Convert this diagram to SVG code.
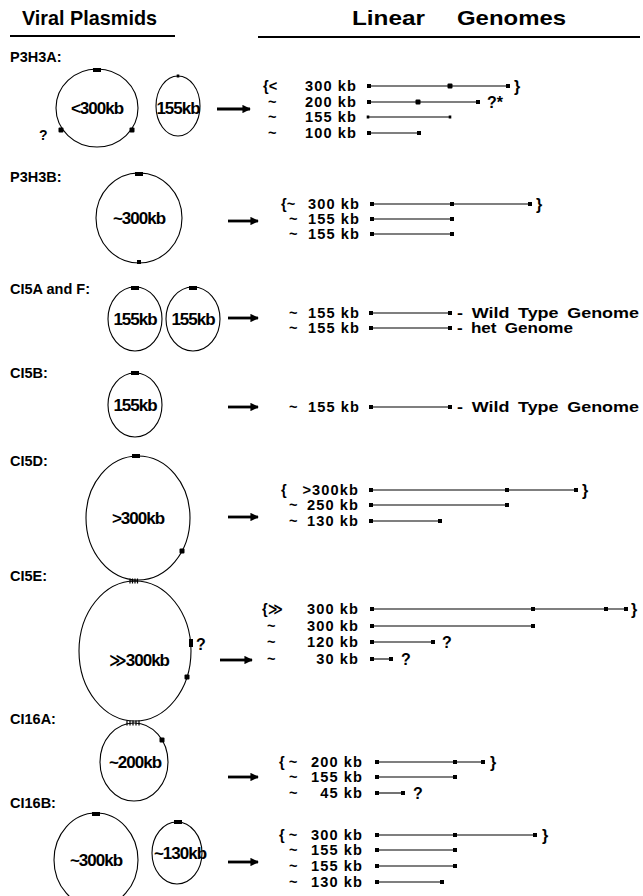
<svg xmlns="http://www.w3.org/2000/svg" width="643" height="896" viewBox="0 0 643 896">
<defs>
<style>
text{font-family:"Liberation Sans",Arial,"DejaVu Sans",sans-serif;fill:#000;font-weight:bold}
.hdr{font-size:21px}
.sec{font-size:14.5px}
.pl{font-size:17px;text-anchor:middle;letter-spacing:-1px}
.g{font-size:14.6px}
.n{text-anchor:end;letter-spacing:1.1px}
.c{fill:none;stroke:#000;stroke-width:1.1}
.ln{stroke:#000;stroke-width:1.1;fill:none}
.ar{stroke:#000;stroke-width:2.8;fill:none}
.ul{stroke:#000;stroke-width:2;fill:none}
.ht{stroke:#000;stroke-width:1.2;fill:none}
</style>
<marker id="ah" viewBox="0 0 10 10" refX="9" refY="5" markerWidth="3.2" markerHeight="3" orient="auto" markerUnits="strokeWidth">
<path d="M0,0 L10,5 L0,10 z" fill="#000"/>
</marker>
<rect id="sq" x="-2" y="-2" width="4" height="4" fill="#000"/>
<rect id="dt" x="-2.5" y="-2.5" width="5" height="5" rx="1" fill="#000"/>
<rect id="tk" x="-1.3" y="-1.5" width="2.6" height="3" fill="#000"/>
<rect id="tm" x="-4" y="-2" width="8" height="4" fill="#000"/>
</defs>
<rect width="643" height="896" fill="#fff"/>

<g id="headers">
<text class="hdr" x="22" y="25" textLength="135" lengthAdjust="spacingAndGlyphs">Viral Plasmids</text>
<line class="ul" x1="10" y1="36" x2="175" y2="36"/>
<text class="hdr" x="352" y="25" textLength="73" lengthAdjust="spacingAndGlyphs">Linear</text>
<text class="hdr" x="457" y="25" textLength="109" lengthAdjust="spacingAndGlyphs">Genomes</text>
<line class="ul" x1="258" y1="37" x2="640" y2="37"/>
</g>

<!-- P3H3A -->
<g id="p3h3a">
<text class="sec" x="10" y="62">P3H3A:</text>
<ellipse class="c" cx="97" cy="108" rx="41" ry="39"/>
<use href="#tm" x="97" y="70"/>
<use href="#dt" x="61" y="130"/>
<use href="#dt" x="132" y="130"/>
<text class="g" x="39" y="140" style="font-size:14px">?</text>
<text class="pl" x="97" y="114">&lt;300kb</text>
<ellipse class="c" cx="178" cy="106" rx="22" ry="30"/>
<use href="#tk" x="178" y="76"/>
<text class="pl" x="178" y="114">155kb</text>
<text class="g"><tspan x="263" y="91">{&lt;</tspan><tspan class="n" x="357" y="91">300 kb</tspan><tspan x="268" y="107">~</tspan><tspan class="n" x="357" y="107">200 kb</tspan><tspan x="268" y="122">~</tspan><tspan class="n" x="357" y="122">155 kb</tspan><tspan x="268" y="138">~</tspan><tspan class="n" x="357" y="138">100 kb</tspan></text>
<line class="ln" x1="369" y1="86" x2="508" y2="86"/>
<use href="#sq" x="369" y="86"/><use href="#dt" x="450" y="86"/><use href="#sq" x="508" y="86"/>
<text class="g" x="514" y="91.5" style="font-size:16px">}</text>
<line class="ln" x1="369" y1="102" x2="478" y2="102"/>
<use href="#sq" x="369" y="102"/><use href="#dt" x="418" y="102"/><use href="#sq" x="478" y="102"/>
<text class="g" x="487" y="107.5" style="font-size:16px">?*</text>
<line class="ln" x1="368" y1="117" x2="450" y2="117"/>
<use href="#tk" x="368" y="117"/><use href="#tk" x="450" y="117"/>
<line class="ln" x1="369" y1="133" x2="419" y2="133"/>
<use href="#sq" x="369" y="133"/><use href="#sq" x="419" y="133"/>
</g>

<!-- P3H3B -->
<g id="p3h3b">
<text class="sec" x="10" y="182">P3H3B:</text>
<ellipse class="c" cx="139" cy="218" rx="43" ry="45"/>
<use href="#tm" x="139" y="174"/>
<use href="#sq" x="139" y="262"/>
<text class="pl" x="139" y="224">~300kb</text>
<text class="g"><tspan x="281" y="209">{~</tspan><tspan class="n" x="360" y="209">300 kb</tspan><tspan x="289" y="224">~</tspan><tspan class="n" x="360" y="224">155 kb</tspan><tspan x="289" y="239">~</tspan><tspan class="n" x="360" y="239">155 kb</tspan></text>
<line class="ln" x1="372" y1="204" x2="530" y2="204"/>
<use href="#sq" x="372" y="204"/><use href="#sq" x="452" y="204"/><use href="#sq" x="530" y="204"/>
<text class="g" x="536" y="209.5" style="font-size:16px">}</text>
<line class="ln" x1="372" y1="219" x2="452" y2="219"/>
<use href="#sq" x="372" y="219"/><use href="#sq" x="452" y="219"/>
<line class="ln" x1="372" y1="234" x2="452" y2="234"/>
<use href="#sq" x="372" y="234"/><use href="#sq" x="452" y="234"/>
</g>

<!-- CI5A and F -->
<g id="ci5af">
<text class="sec" x="10" y="294">CI5A and F:</text>
<ellipse class="c" cx="135" cy="319" rx="27" ry="32"/>
<use href="#tm" x="135" y="288"/>
<text class="pl" x="135" y="325">155kb</text>
<ellipse class="c" cx="193" cy="319" rx="27" ry="32"/>
<use href="#tm" x="193" y="288"/>
<text class="pl" x="193" y="325">155kb</text>
<text class="g"><tspan x="289" y="318">~</tspan><tspan class="n" x="360" y="318">155 kb</tspan><tspan x="289" y="333">~</tspan><tspan class="n" x="360" y="333">155 kb</tspan></text>
<line class="ln" x1="371" y1="313" x2="450" y2="313"/>
<use href="#sq" x="371" y="313"/><use href="#sq" x="450" y="313"/>
<line class="ln" x1="371" y1="328" x2="450" y2="328"/>
<use href="#sq" x="371" y="328"/><use href="#sq" x="450" y="328"/>
<text class="g"><tspan x="457" y="318" textLength="182" lengthAdjust="spacingAndGlyphs" word-spacing="3">- Wild Type Genome</tspan><tspan x="457" y="333" textLength="116" lengthAdjust="spacingAndGlyphs" word-spacing="3">- het Genome</tspan></text>
</g>

<!-- CI5B -->
<g id="ci5b">
<text class="sec" x="10" y="378">CI5B:</text>
<ellipse class="c" cx="135" cy="405" rx="27" ry="32"/>
<use href="#tm" x="135" y="373"/>
<text class="pl" x="135" y="411">155kb</text>
<text class="g"><tspan x="289" y="412">~</tspan><tspan class="n" x="360" y="412">155 kb</tspan></text>
<line class="ln" x1="371" y1="407" x2="450" y2="407"/>
<use href="#sq" x="371" y="407"/><use href="#sq" x="450" y="407"/>
<text class="g" x="457" y="412" textLength="182" lengthAdjust="spacingAndGlyphs" word-spacing="3">- Wild Type Genome</text>
</g>

<!-- CI5D -->
<g id="ci5d">
<text class="sec" x="10" y="466">CI5D:</text>
<ellipse class="c" cx="138" cy="518" rx="52" ry="62"/>
<use href="#tm" x="136" y="456"/>
<use href="#dt" x="182" y="551"/>
<text class="pl" x="138" y="524">&gt;300kb</text>
<text class="g"><tspan x="281" y="495">{</tspan><tspan class="n" x="359" y="495">&gt;300kb</tspan><tspan x="289" y="510">~</tspan><tspan class="n" x="359" y="510">250 kb</tspan><tspan x="289" y="526">~</tspan><tspan class="n" x="359" y="526">130 kb</tspan></text>
<line class="ln" x1="371" y1="490" x2="576" y2="490"/>
<use href="#sq" x="371" y="490"/><use href="#sq" x="507" y="490"/><use href="#sq" x="576" y="490"/>
<text class="g" x="582" y="495.5" style="font-size:16px">}</text>
<line class="ln" x1="371" y1="505" x2="507" y2="505"/>
<use href="#sq" x="371" y="505"/><use href="#sq" x="507" y="505"/>
<line class="ln" x1="371" y1="521" x2="440" y2="521"/>
<use href="#sq" x="371" y="521"/><use href="#sq" x="440" y="521"/>
</g>

<!-- CI5E -->
<g id="ci5e">
<text class="sec" x="10" y="581">CI5E:</text>
<ellipse class="c" cx="135" cy="651" rx="56" ry="70"/>
<path class="ht" d="M130,578.5v5M132.5,578.5v5M135,578.5v5M137.5,578.5v5M130,581h8"/>
<rect x="189" y="639" width="4" height="8" fill="#000"/>
<use href="#dt" x="187" y="677"/>
<text class="g" x="196" y="650" style="font-size:16px">?</text>
<text class="pl" x="139" y="666">≫300kb</text>
<text class="g"><tspan x="262" y="614">{≫</tspan><tspan class="n" x="359" y="614">300 kb</tspan><tspan x="267" y="631">~</tspan><tspan class="n" x="359" y="631">300 kb</tspan><tspan x="267" y="647">~</tspan><tspan class="n" x="359" y="647">120 kb</tspan><tspan x="267" y="664">~</tspan><tspan class="n" x="359" y="664">30 kb</tspan></text>
<line class="ln" x1="372" y1="609" x2="626" y2="609"/>
<use href="#sq" x="372" y="609"/><use href="#sq" x="533" y="609"/><use href="#sq" x="606" y="609"/><use href="#sq" x="626" y="609"/>
<text class="g" x="631" y="614.5" style="font-size:16px">}</text>
<line class="ln" x1="372" y1="626" x2="533" y2="626"/>
<use href="#sq" x="372" y="626"/><use href="#sq" x="533" y="626"/>
<line class="ln" x1="372" y1="642" x2="433" y2="642"/>
<use href="#sq" x="372" y="642"/><use href="#sq" x="433" y="642"/>
<text class="g" x="442" y="648" style="font-size:16px">?</text>
<line class="ln" x1="372" y1="659" x2="391" y2="659"/>
<use href="#sq" x="372" y="659"/><use href="#sq" x="391" y="659"/>
<text class="g" x="401" y="665" style="font-size:16px">?</text>
</g>

<!-- CI16A -->
<g id="ci16a">
<text class="sec" x="10" y="724">CI16A:</text>
<ellipse class="c" cx="134" cy="762" rx="34" ry="39"/>
<path class="ht" d="M127,720.5v5M130,720.5v5M133,720.5v5M136,720.5v5M139,720.5v5"/>
<use href="#dt" x="162" y="740"/>
<text class="pl" x="135" y="768">~200kb</text>
<text class="g"><tspan x="279" y="767">{ ~</tspan><tspan class="n" x="363" y="767">200 kb</tspan><tspan x="289" y="782">~</tspan><tspan class="n" x="363" y="782">155 kb</tspan><tspan x="289" y="798">~</tspan><tspan class="n" x="363" y="798">45 kb</tspan></text>
<line class="ln" x1="377" y1="762" x2="483" y2="762"/>
<use href="#sq" x="377" y="762"/><use href="#sq" x="455" y="762"/><use href="#sq" x="483" y="762"/>
<text class="g" x="490" y="767.5" style="font-size:16px">}</text>
<line class="ln" x1="377" y1="777" x2="455" y2="777"/>
<use href="#sq" x="377" y="777"/><use href="#sq" x="455" y="777"/>
<line class="ln" x1="377" y1="793" x2="403" y2="793"/>
<use href="#sq" x="377" y="793"/><use href="#sq" x="403" y="793"/>
<text class="g" x="413" y="798.5" style="font-size:16px">?</text>
</g>

<!-- CI16B -->
<g id="ci16b">
<text class="sec" x="10" y="808">CI16B:</text>
<ellipse class="c" cx="96" cy="860" rx="42" ry="47"/>
<use href="#tm" x="96" y="814"/>
<use href="#tm" x="96" y="907"/>
<text class="pl" x="96" y="866">~300kb</text>
<ellipse class="c" cx="177" cy="853" rx="25" ry="31"/>
<use href="#tm" x="178" y="822"/>
<text class="pl" x="180" y="859">~130kb</text>
<text class="g"><tspan x="279" y="840">{ ~</tspan><tspan class="n" x="363" y="840">300 kb</tspan><tspan x="289" y="855">~</tspan><tspan class="n" x="363" y="855">155 kb</tspan><tspan x="289" y="871">~</tspan><tspan class="n" x="363" y="871">155 kb</tspan><tspan x="289" y="887">~</tspan><tspan class="n" x="363" y="887">130 kb</tspan></text>
<line class="ln" x1="377" y1="835" x2="535" y2="835"/>
<use href="#sq" x="377" y="835"/><use href="#sq" x="455" y="835"/><use href="#sq" x="535" y="835"/>
<text class="g" x="542" y="840.5" style="font-size:16px">}</text>
<line class="ln" x1="377" y1="850" x2="455" y2="850"/>
<use href="#sq" x="377" y="850"/><use href="#sq" x="455" y="850"/>
<line class="ln" x1="377" y1="866" x2="455" y2="866"/>
<use href="#sq" x="377" y="866"/><use href="#sq" x="455" y="866"/>
<line class="ln" x1="377" y1="882" x2="442" y2="882"/>
<use href="#sq" x="377" y="882"/><use href="#sq" x="442" y="882"/>
</g>

<g id="connectors">
<line class="ar" x1="217" y1="109" x2="250" y2="109" marker-end="url(#ah)"/>
<line class="ar" x1="228" y1="221" x2="258" y2="221" marker-end="url(#ah)"/>
<line class="ar" x1="228" y1="318" x2="258" y2="318" marker-end="url(#ah)"/>
<line class="ar" x1="228" y1="407" x2="258" y2="407" marker-end="url(#ah)"/>
<line class="ar" x1="228" y1="517" x2="258" y2="517" marker-end="url(#ah)"/>
<line class="ar" x1="220" y1="660" x2="252" y2="660" marker-end="url(#ah)"/>
<line class="ar" x1="228" y1="777" x2="258" y2="777" marker-end="url(#ah)"/>
<line class="ar" x1="228" y1="862" x2="258" y2="862" marker-end="url(#ah)"/>
</g>
</svg>
